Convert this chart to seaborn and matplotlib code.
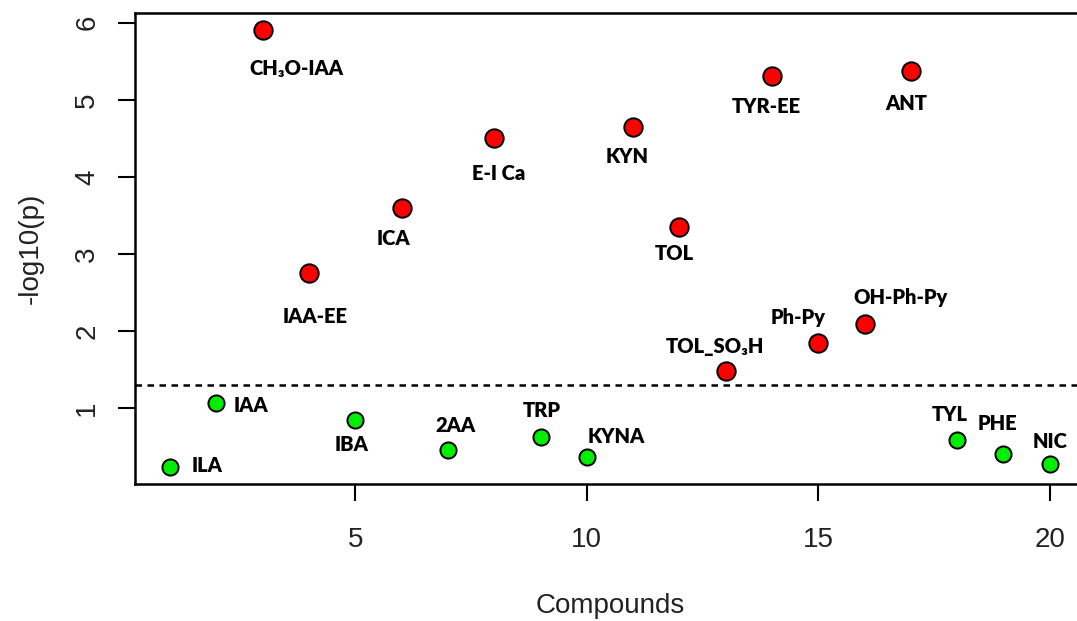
import matplotlib
matplotlib.use("Agg")
import matplotlib.pyplot as plt
import seaborn as sns
import pandas as pd

# compound index, name and significance (-log10 p)
compound_idx = list(range(1, 21))
compound_names = ["ILA", "IAA", "CH\u2083O-IAA", "IAA-EE", "IBA", "ICA", "2AA", "E-I Ca",
                  "TRP", "KYNA", "KYN", "TOL", "TOL_SO\u2083H", "TYR-EE", "Ph-Py",
                  "OH-Ph-Py", "ANT", "TYL", "PHE", "NIC"]
neg_log_p = [0.24, 1.06, 5.90, 2.75, 0.85, 3.59, 0.46, 4.50, 0.63, 0.36,
             4.65, 3.35, 1.48, 5.31, 1.84, 2.09, 5.37, 0.59, 0.40, 0.27]
alpha = 0.05
threshold = 1.30103  # -log10(alpha)

# label offsets from each point, in pixels (dx, dy; positive dy is up)
label_offsets = [(37, 1), (35, -2), (34, -38), (6, -43), (-4, -25), (-8, -30),
                 (8, 24), (4, -35), (1, 26), (29, 21), (-6, -30), (-5, -27),
                 (-11, 25), (-6, -31), (-20, 26), (36, 27), (-5, -32), (-7, 25),
                 (-6, 31), (0, 23)]

df = pd.DataFrame({"idx": compound_idx, "name": compound_names, "y": neg_log_p})
df["sig"] = df["y"] > threshold

sns.set_style("white")
plt.rcParams["font.family"] = ["Liberation Sans", "DejaVu Sans"]

fig = plt.figure(figsize=(10.77, 6.21), dpi=100)
ax = fig.add_axes([0.1253, 0.2206, 0.8821, 0.7584])

sns.scatterplot(data=df[df["sig"]], x="idx", y="y", color="#ff0000", s=175,
                edgecolor="black", linewidth=1.4, ax=ax, zorder=3)
sns.scatterplot(data=df[~df["sig"]], x="idx", y="y", color="#00ee00", s=135,
                edgecolor="black", linewidth=1.4, ax=ax, zorder=3)

ax.axhline(threshold, color="black", linestyle=(0, (2.6, 2.2)), linewidth=1.8, zorder=2)

for xi, yi, name, (dx, dy) in zip(df["idx"], df["y"], df["name"], label_offsets):
    ax.annotate(name, (xi, yi), xytext=(dx, dy), textcoords="offset pixels",
                ha="center", va="center", fontsize=14.5, fontweight="heavy",
                family=["Lato", "DejaVu Sans"], color="black", zorder=4)

ymin, ymax = min(neg_log_p), max(neg_log_p)
pad = 0.04 * (ymax - ymin)
ax.set_ylim(ymin - pad, ymax + pad)
ax.set_xlim(1 - 0.04 * 19, 20 + 0.04 * 19)

ax.set_xticks([5, 10, 15, 20])
ax.set_yticks([1, 2, 3, 4, 5, 6])
ax.tick_params(axis="both", direction="out", length=12, width=1.5, color="black",
               labelsize=20, labelcolor="#222222", left=True, bottom=True)
ax.tick_params(axis="x", pad=19)
ax.tick_params(axis="y", pad=13)
for lab in ax.get_yticklabels():
    lab.set_rotation(90)
    lab.set_va("center")

ax.set_xlabel("Compounds", fontsize=20, color="#222222", labelpad=29)
ax.set_ylabel("-log10(p)", fontsize=20, color="#222222", labelpad=22)

for sp in ax.spines.values():
    sp.set_visible(True)
    sp.set_color("black")
    sp.set_linewidth(1.8)

fig.savefig("out.png", dpi=100, facecolor="white")
